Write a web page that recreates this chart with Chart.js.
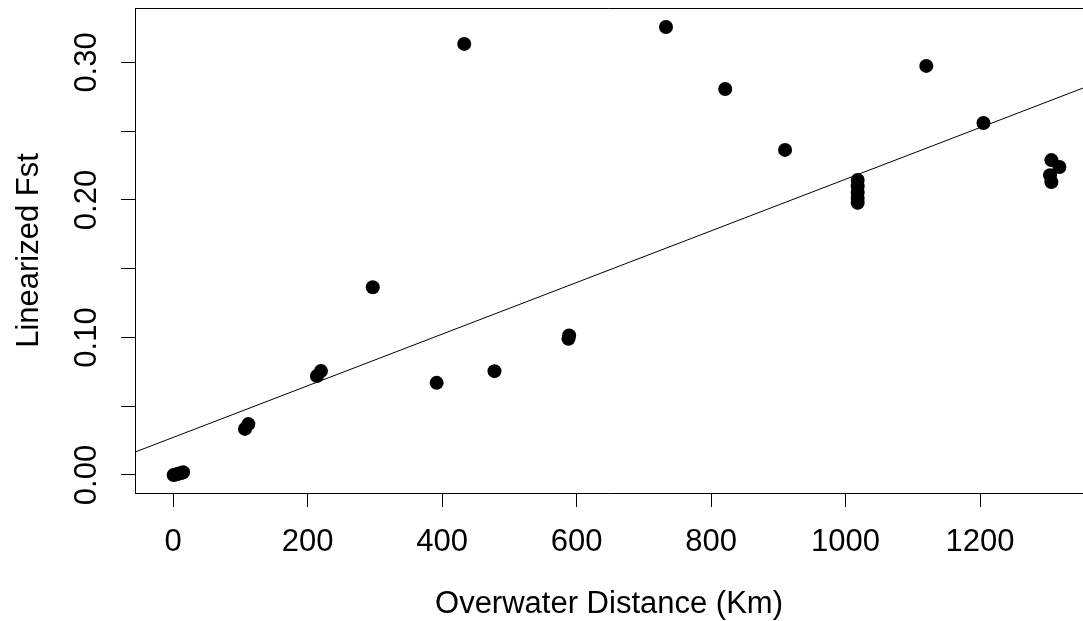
<!DOCTYPE html>
<html>
<head>
<meta charset="utf-8">
<script src="https://cdn.jsdelivr.net/npm/chart.js@4"></script>
<style>
  body { margin: 0; background: #fff; overflow: hidden; }
  #wrap { width: 1083px; height: 621px; position: relative; }
</style>
</head>
<body>
<div id="wrap"><canvas id="myChart"></canvas></div>
<script>
// overwater distance (km) and linearized Fst
const distKm = [1, 5, 9, 13, 15, 107, 112, 214, 220, 297, 392, 433, 478, 588, 589,
  733, 821, 910, 1018, 1018, 1018, 1018, 1018, 1120, 1205, 1306, 1318, 1304, 1306];
const linFst = [0.000, 0.0005, 0.001, 0.0015, 0.002, 0.0335, 0.037, 0.072, 0.0756, 0.1365, 0.067, 0.3135, 0.0755, 0.099, 0.1015,
  0.3258, 0.2807, 0.2364, 0.2145, 0.210, 0.2055, 0.2015, 0.198, 0.2975, 0.256, 0.229, 0.224, 0.218, 0.213];

// fitted regression line, endpoints read at the plot edges
const fitX = [-60, 1360];
const fitY = [0.0160, 0.2827];

const xTicks = [0, 200, 400, 600, 800, 1000, 1200];
const yTicks = [0, 0.05, 0.10, 0.15, 0.20, 0.25, 0.30];
const yLabeled = [0, 0.10, 0.20, 0.30];

const font = { family: "'Liberation Sans', Arial, sans-serif", size: 31 };
const titleFont = { family: "'Liberation Sans', Arial, sans-serif", size: 31, lineHeight: 1.0 };

const topLine = {
  id: "topLine",
  afterDraw(chart) {
    const { ctx, chartArea } = chart;
    ctx.save();
    ctx.strokeStyle = "#000";
    ctx.lineWidth = 1;
    ctx.beginPath();
    ctx.moveTo(chartArea.left, chartArea.top + 0.5);
    ctx.lineTo(chartArea.right + 2, chartArea.top + 0.5);
    ctx.stroke();
    ctx.restore();
  },
};

const chart = new Chart(document.getElementById("myChart"), {
  type: "scatter",
  data: {
    datasets: [
      {
        label: "Fst",
        data: distKm.map((d, i) => ({ x: d, y: linFst[i] })),
        backgroundColor: "#000",
        borderWidth: 0,
        pointRadius: 7,
        pointHoverRadius: 7,
      },
      {
        type: "line",
        label: "fit",
        data: fitX.map((d, i) => ({ x: d, y: fitY[i] })),
        borderColor: "#000",
        borderWidth: 1,
        pointRadius: 0,
        fill: false,
      },
    ],
  },
  options: {
    responsive: true,
    maintainAspectRatio: false,
    animation: false,
    events: [],
    layout: { autoPadding: false, padding: { top: 8, right: 0, left: 0, bottom: 0 } },
    plugins: { legend: { display: false }, tooltip: { enabled: false } },
    scales: {
      x: {
        type: "linear",
        min: -56.5,
        max: 1353,
        afterBuildTicks: (scale) => { scale.ticks = xTicks.map((v) => ({ value: v })); },
        afterFit: (scale) => { scale.height = 128; scale.paddingLeft = 0; scale.paddingRight = 0; },
        grid: { drawOnChartArea: false, drawTicks: true, tickLength: 14, tickColor: "#000", tickWidth: 1 },
        border: { display: true, color: "#000", width: 1 },
        ticks: { color: "#000", font: font, padding: 17, maxRotation: 0, autoSkip: false, callback: (v) => String(v) },
        title: { display: true, text: "Overwater Distance (Km)", color: "#000", font: titleFont, padding: { bottom: 1 } },
      },
      y: {
        min: -0.0131,
        max: 0.3396,
        afterBuildTicks: (scale) => { scale.ticks = yTicks.map((v) => ({ value: v })); },
        afterFit: (scale) => { scale.width = 135; scale.paddingTop = 0; scale.paddingBottom = 0; },
        grid: { drawOnChartArea: false, drawTicks: true, tickLength: 14, tickColor: "#000", tickWidth: 1 },
        border: { display: true, color: "#000", width: 1 },
        ticks: {
          color: "#000",
          font: font,
          padding: 3,
          minRotation: 90,
          maxRotation: 90,
          crossAlign: "center",
          autoSkip: false,
          callback: (v) => (yLabeled.some((t) => Math.abs(t - v) < 1e-9) ? v.toFixed(2) : ""),
        },
        title: { display: true, text: "Linearized Fst", color: "#000", font: titleFont, padding: { top: 14 } },
      },
    },
  },
  plugins: [topLine],
});
</script>
</body>
</html>
